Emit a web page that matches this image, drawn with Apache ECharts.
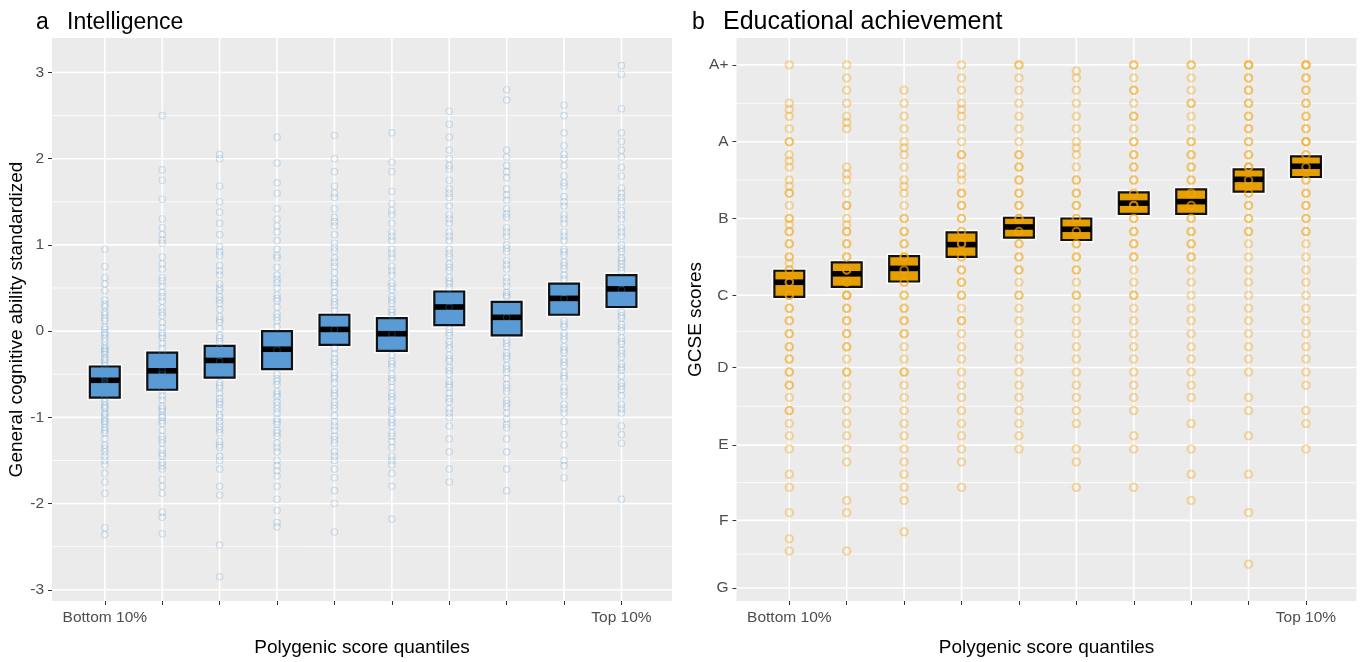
<!DOCTYPE html>
<html>
<head>
<meta charset="utf-8">
<script src="https://cdn.jsdelivr.net/npm/echarts@6/dist/echarts.min.js"></script>
<style>
  html, body { margin: 0; padding: 0; background: #fff; }
  #chart { width: 1360px; height: 662px; }
</style>
</head>
<body>
<div id="chart"></div>
<script>
// Polygenic score deciles (1 = bottom 10%, 10 = top 10%)
const quantiles = [1, 2, 3, 4, 5, 6, 7, 8, 9, 10];
const quantileLabels = { 1: 'Bottom 10%', 10: 'Top 10%' };

// Panel a: general cognitive ability (standardized)
const iqTicks = [-3, -2, -1, 0, 1, 2, 3];
const iqMinorTicks = [-2.5, -1.5, -0.5, 0.5, 1.5, 2.5];
const iqBoxTop    = [-0.41, -0.25, -0.17, 0.00, 0.19, 0.15, 0.46, 0.34, 0.55, 0.65];
const iqBoxBottom = [-0.77, -0.68, -0.54, -0.44, -0.16, -0.23, 0.07, -0.05, 0.19, 0.28];
const iqMedian    = [-0.57, -0.46, -0.34, -0.21, 0.02, -0.03, 0.28, 0.16, 0.38, 0.49];
const iqPoints = [
  [0.95, 0.75, 0.62, 0.47, 0.36, 0.28, 0.22, 0.19, 0.12, 0.05, 0.02, -0.04, -0.08, -0.12, -0.17, -0.22, -0.27, -0.31, -0.36, -0.4, -0.45, -0.5, -0.55, -0.6, -0.63, -0.68, -0.72, -0.78, -0.82, -0.86, -0.9, -0.95, -1.0, -1.05, -1.08, -1.12, -1.18, -1.25, -1.32, -1.4, -1.45, -1.5, -1.55, -1.65, -1.75, -1.88, -2.28, -2.36,
   0.55, 0.31, 0.15, -0.02, -0.2, -0.33, -0.52, -0.7, -0.88, -1.03, -1.15, -1.36, -0.97, -0.24],
  [2.5, 1.87, 1.75, 1.53, 1.3, 1.2, 1.06, 1.02, 0.86, 0.72, 0.62, 0.52, 0.45, 0.35, 0.27, 0.18, 0.1, 0.04, -0.02, -0.08, -0.14, -0.2, -0.27, -0.33, -0.39, -0.46, -0.5, -0.56, -0.62, -0.69, -0.75, -0.8, -0.87, -0.93, -1.0, -1.07, -1.15, -1.22, -1.3, -1.37, -1.45, -1.52, -1.6, -1.72, -1.8, -1.88, -2.1, -2.16, -2.35,
   1.12, 0.78, 0.4, 0.22, -0.05, -0.9, -1.04, -1.26, -1.42, -1.56, -0.98, 0.58],
  [2.05, 2.0, 1.68, 1.5, 1.38, 1.25, 1.12, 0.98, 0.88, 0.76, 0.65, 0.55, 0.47, 0.4, 0.32, 0.25, 0.17, 0.1, 0.03, -0.05, -0.12, -0.2, -0.28, -0.35, -0.42, -0.48, -0.6, -0.66, -0.72, -0.78, -0.85, -0.9, -0.97, -1.05, -1.1, -1.18, -1.28, -1.35, -1.45, -1.6, -1.8, -1.9, -2.48, -2.85,
   0.92, 0.7, 0.5, 0.36, 0.13, -0.08, -0.63, -0.82, -1.0, -1.14, -1.32, -1.5],
  [2.25, 1.95, 1.72, 1.6, 1.42, 1.3, 1.15, 1.05, 0.95, 0.85, 0.74, 0.65, 0.56, 0.5, 0.42, 0.35, 0.28, 0.2, 0.12, 0.05, -0.1, -0.22, -0.35, -0.5, -0.55, -0.62, -0.7, -0.76, -0.82, -0.9, -0.95, -1.02, -1.08, -1.15, -1.22, -1.3, -1.4, -1.5, -1.56, -1.68, -1.8, -1.95, -2.08, -2.22, -2.27,
   1.22, 0.88, 0.6, 0.38, 0.16, -0.58, -0.73, -0.86, -1.05, -1.18, -1.35, -1.62],
  [2.27, 2.0, 1.85, 1.68, 1.55, 1.42, 1.32, 1.22, 1.12, 1.02, 0.93, 0.85, 0.75, 0.68, 0.6, 0.52, 0.45, 0.38, 0.3, 0.24, 0.1, 0.02, -0.08, -0.2, -0.26, -0.32, -0.4, -0.48, -0.55, -0.6, -0.68, -0.75, -0.82, -0.9, -0.98, -1.05, -1.15, -1.22, -1.3, -1.4, -1.5, -1.6, -1.7, -1.85, -2.0, -2.33,
   1.6, 1.27, 0.97, 0.8, 0.56, 0.34, -0.36, -0.52, -0.72, -0.86, -1.1, -1.26, -1.45],
  [2.3, 1.96, 1.85, 1.62, 1.48, 1.35, 1.25, 1.15, 1.05, 0.95, 0.85, 0.75, 0.65, 0.56, 0.48, 0.4, 0.32, 0.25, 0.18, 0.05, -0.03, -0.12, -0.28, -0.35, -0.42, -0.5, -0.58, -0.65, -0.72, -0.8, -0.88, -0.95, -1.02, -1.1, -1.18, -1.28, -1.35, -1.45, -1.55, -1.65, -1.8, -2.18,
   1.4, 1.1, 0.9, 0.7, 0.52, 0.36, 0.22, -0.38, -0.55, -0.76, -0.92, -1.06, -1.22, -1.5],
  [2.55, 2.4, 2.25, 2.1, 2.0, 1.88, 1.75, 1.65, 1.55, 1.45, 1.35, 1.25, 1.15, 1.05, 0.95, 0.86, 0.78, 0.7, 0.62, 0.55, 0.5, 0.35, 0.28, 0.15, 0.02, -0.05, -0.12, -0.2, -0.28, -0.35, -0.42, -0.5, -0.58, -0.65, -0.72, -0.82, -0.9, -1.0, -1.1, -1.25, -1.4, -1.6, -1.75,
   1.92, 1.6, 1.3, 1.1, 0.9, 0.74, 0.58, -0.02, -0.16, -0.32, -0.46, -0.62, -0.78, -0.95],
  [2.8, 2.68, 2.1, 2.02, 1.92, 1.78, 1.65, 1.52, 1.42, 1.32, 1.2, 1.1, 1.0, 0.92, 0.82, 0.72, 0.62, 0.52, 0.45, 0.4, 0.25, 0.16, 0.05, -0.1, -0.18, -0.25, -0.32, -0.4, -0.48, -0.55, -0.62, -0.7, -0.8, -0.88, -0.95, -1.02, -1.12, -1.25, -1.4, -1.6, -1.85,
   1.85, 1.58, 1.36, 1.15, 0.96, 0.77, 0.57, 0.42, -0.14, -0.29, -0.44, -0.66, -0.84, -1.08],
  [2.62, 2.5, 2.3, 2.15, 2.05, 1.92, 1.8, 1.68, 1.56, 1.45, 1.35, 1.25, 1.15, 1.05, 0.95, 0.88, 0.8, 0.72, 0.65, 0.6, 0.45, 0.38, 0.28, 0.12, 0.05, -0.02, -0.1, -0.18, -0.25, -0.32, -0.4, -0.48, -0.55, -0.65, -0.75, -0.85, -0.95, -1.05, -1.2, -1.32, -1.5, -1.56, -1.7,
   2.0, 1.72, 1.5, 1.3, 1.1, 0.92, 0.76, 0.08, -0.06, -0.22, -0.36, -0.52, -0.7, -0.9],
  [3.08, 2.98, 2.58, 2.3, 2.2, 2.02, 1.9, 1.66, 1.6, 1.5, 1.4, 1.3, 1.2, 1.1, 1.0, 0.92, 0.85, 0.78, 0.7, 0.55, 0.48, 0.38, 0.22, 0.15, 0.08, 0.0, -0.08, -0.15, -0.22, -0.3, -0.38, -0.45, -0.52, -0.6, -0.68, -0.75, -0.85, -0.95, -1.1, -1.2, -1.3, -1.95,
   2.1, 1.8, 1.55, 1.35, 1.15, 0.96, 0.82, 0.74, 0.18, 0.04, -0.12, -0.26, -0.42, -0.64, -0.9]
];

// Panel b: GCSE grades
const gradeLabels = ['G', 'F', 'E', 'D', 'C', 'B', 'A', 'A+'];
const gradeValues = [1.19, 2.07, 3.05, 4.06, 5, 6, 7, 8];
const gcseBoxTop    = [5.32, 5.43, 5.51, 5.82, 6.01, 6.00, 6.34, 6.38, 6.64, 6.81];
const gcseBoxBottom = [4.98, 5.11, 5.18, 5.50, 5.75, 5.72, 6.06, 6.06, 6.35, 6.54];
const gcseMedian    = [5.17, 5.28, 5.35, 5.66, 5.89, 5.86, 6.20, 6.22, 6.51, 6.68];
const gcsePoints = [
  [8.00, 7.50, 7.42, 7.33, 7.17, 7.00, 7.00, 6.83, 6.75, 6.67, 6.50, 6.42, 6.33, 6.33, 6.17, 6.00, 6.00, 5.92, 5.83, 5.83, 5.67, 5.67, 5.50, 5.50, 5.42, 5.33, 5.33, 5.17, 5.17, 5.17, 5.00, 5.00, 5.00, 4.83, 4.83, 4.67, 4.67, 4.50, 4.50, 4.33, 4.33, 4.17, 4.17, 4.00, 4.00, 3.83, 3.83, 3.67, 3.50, 3.50, 3.33, 3.17, 3.00, 2.67, 2.50, 2.17, 1.83, 1.67],
  [8.00, 7.83, 7.67, 7.50, 7.33, 7.25, 7.17, 6.67, 6.58, 6.50, 6.33, 6.17, 6.17, 6.00, 5.92, 5.83, 5.83, 5.67, 5.67, 5.50, 5.50, 5.33, 5.33, 5.33, 5.17, 5.17, 5.00, 5.00, 5.00, 4.83, 4.83, 4.67, 4.67, 4.50, 4.50, 4.33, 4.33, 4.17, 4.00, 4.00, 3.83, 3.67, 3.50, 3.33, 3.17, 3.00, 2.83, 2.33, 2.17, 1.67],
  [7.67, 7.50, 7.33, 7.17, 7.00, 6.92, 6.83, 6.67, 6.50, 6.42, 6.33, 6.17, 6.00, 6.00, 5.83, 5.83, 5.67, 5.67, 5.50, 5.50, 5.50, 5.33, 5.33, 5.17, 5.17, 5.00, 5.00, 4.83, 4.83, 4.67, 4.67, 4.50, 4.50, 4.33, 4.17, 4.00, 4.00, 3.83, 3.67, 3.50, 3.33, 3.17, 3.00, 2.83, 2.67, 2.50, 2.33, 1.92],
  [8.00, 7.83, 7.67, 7.50, 7.42, 7.33, 7.17, 7.00, 6.83, 6.83, 6.67, 6.58, 6.50, 6.33, 6.33, 6.17, 6.17, 6.00, 6.00, 5.83, 5.83, 5.67, 5.67, 5.67, 5.50, 5.50, 5.33, 5.33, 5.17, 5.17, 5.00, 5.00, 4.83, 4.67, 4.67, 4.50, 4.33, 4.17, 4.00, 3.83, 3.67, 3.50, 3.33, 3.17, 3.00, 2.83, 2.50],
  [8.00, 8.00, 7.83, 7.67, 7.50, 7.33, 7.17, 7.00, 6.83, 6.83, 6.67, 6.67, 6.50, 6.50, 6.33, 6.33, 6.17, 6.17, 6.00, 6.00, 6.00, 5.83, 5.83, 5.67, 5.67, 5.50, 5.50, 5.33, 5.33, 5.17, 5.00, 5.00, 4.83, 4.67, 4.50, 4.33, 4.17, 4.00, 3.83, 3.67, 3.50, 3.33, 3.17, 3.00],
  [7.92, 7.83, 7.67, 7.50, 7.33, 7.17, 7.00, 6.92, 6.83, 6.67, 6.50, 6.50, 6.33, 6.33, 6.17, 6.17, 6.00, 6.00, 5.83, 5.83, 5.67, 5.67, 5.50, 5.50, 5.33, 5.33, 5.17, 5.00, 5.00, 4.83, 4.67, 4.50, 4.33, 4.17, 4.00, 3.83, 3.67, 3.50, 3.33, 3.00, 2.83, 2.50],
  [8.00, 8.00, 7.83, 7.67, 7.67, 7.50, 7.33, 7.33, 7.17, 7.00, 7.00, 6.83, 6.83, 6.67, 6.67, 6.50, 6.50, 6.33, 6.33, 6.17, 6.17, 6.17, 6.00, 6.00, 5.83, 5.83, 5.67, 5.67, 5.50, 5.50, 5.33, 5.17, 5.00, 5.00, 4.83, 4.67, 4.50, 4.33, 4.17, 4.00, 3.83, 3.67, 3.50, 3.17, 3.00, 2.50],
  [8.00, 8.00, 7.83, 7.67, 7.50, 7.50, 7.33, 7.17, 7.00, 7.00, 6.83, 6.83, 6.67, 6.67, 6.50, 6.50, 6.33, 6.33, 6.17, 6.17, 6.00, 6.00, 5.83, 5.83, 5.67, 5.67, 5.50, 5.50, 5.33, 5.17, 5.00, 4.83, 4.67, 4.50, 4.33, 4.17, 4.00, 3.83, 3.67, 3.33, 3.00, 2.67, 2.33],
  [8.00, 8.00, 8.00, 7.83, 7.83, 7.67, 7.67, 7.50, 7.50, 7.33, 7.33, 7.17, 7.17, 7.00, 7.00, 6.83, 6.83, 6.67, 6.67, 6.67, 6.50, 6.50, 6.33, 6.33, 6.17, 6.17, 6.00, 6.00, 5.83, 5.83, 5.67, 5.50, 5.33, 5.17, 5.00, 4.83, 4.67, 4.50, 4.33, 4.17, 4.00, 3.67, 3.50, 3.17, 2.67, 2.17, 1.50],
  [8.00, 8.00, 8.00, 7.83, 7.83, 7.67, 7.67, 7.50, 7.50, 7.33, 7.33, 7.17, 7.17, 7.00, 7.00, 7.00, 6.83, 6.83, 6.67, 6.67, 6.50, 6.50, 6.33, 6.33, 6.17, 6.17, 6.00, 6.00, 5.83, 5.83, 5.67, 5.50, 5.33, 5.17, 5.00, 4.83, 4.67, 4.50, 4.33, 4.17, 4.00, 3.83, 3.50, 3.33, 3.00]
];

// ---- helpers ----
const FONT = "'Liberation Sans', Arial, sans-serif";
const X_MIN = 0.08, X_MAX = 10.88;
const midpoints = vals => vals.slice(0, -1).map((v, i) => (v + vals[i + 1]) / 2);

// white panel grid: horizontal major/minor lines and a vertical line per decile
function gridLineSeries(idx, yMajor, yMinor) {
  const data = [];
  yMinor.forEach(v => data.push([0, v, 0.8]));
  yMajor.forEach(v => data.push([0, v, 1.6]));
  quantiles.forEach(q => data.push([1, q, 1.6]));
  return {
    type: 'custom', xAxisIndex: idx, yAxisIndex: idx, z: 1, silent: true,
    clip: true, data,
    renderItem(params, api) {
      const kind = api.value(0), v = api.value(1), w = api.value(2);
      const cs = params.coordSys;
      let p1, p2;
      if (kind === 0) {
        const y = api.coord([X_MIN, v])[1];
        p1 = [cs.x, y]; p2 = [cs.x + cs.width, y];
      } else {
        const x = api.coord([v, 0])[0];
        p1 = [x, cs.y]; p2 = [x, cs.y + cs.height];
      }
      return { type: 'line', shape: { x1: p1[0], y1: p1[1], x2: p2[0], y2: p2[1] },
               style: { stroke: '#ffffff', lineWidth: w } };
    }
  };
}

// filled crossbar: box from bottom to top value, thick black bar at the median
function boxSeries(idx, tops, bottoms, medians, fill) {
  return {
    type: 'custom', xAxisIndex: idx, yAxisIndex: idx, z: 3, silent: true,
    data: quantiles.map((q, i) => [q, bottoms[i], tops[i], medians[i]]),
    renderItem(params, api) {
      const x = api.value(0);
      const tl = api.coord([x - 0.26, api.value(2)]);
      const br = api.coord([x + 0.26, api.value(1)]);
      const md = api.coord([x, api.value(3)]);
      const w = br[0] - tl[0], h = br[1] - tl[1];
      return { type: 'group', children: [
        { type: 'rect', shape: { x: tl[0] - 1.9, y: tl[1] - 1.9, width: w + 3.8, height: h + 3.8 },
          style: { fill: 'none', stroke: '#ffffff', lineWidth: 1.4 } },
        { type: 'rect', shape: { x: tl[0], y: tl[1], width: w, height: h },
          style: { fill, stroke: '#111111', lineWidth: 2.2 } },
        { type: 'rect', shape: { x: tl[0], y: md[1] - 2.8, width: w, height: 5.6 },
          style: { fill: '#000000' } }
      ]};
    }
  };
}

function pointSeries(idx, cols, color, size, bw) {
  const data = [];
  cols.forEach((col, i) => col.forEach(v => data.push([quantiles[i], v])));
  return {
    type: 'scatter', xAxisIndex: idx, yAxisIndex: idx, z: 4, silent: true,
    symbol: 'circle', symbolSize: size, data,
    itemStyle: { color: 'rgba(0,0,0,0)', borderColor: color, borderWidth: bw }
  };
}

function xAxis(idx) {
  return {
    type: 'value', gridIndex: idx, min: X_MIN, max: X_MAX,
    name: 'Polygenic score quantiles', nameLocation: 'middle', nameGap: 37,
    nameTextStyle: { fontFamily: FONT, fontSize: 19, color: '#000' },
    axisLine: { show: false, onZero: false },
    axisTick: { show: true, customValues: quantiles, length: 4, lineStyle: { color: '#333', width: 1 } },
    axisLabel: { customValues: [1, 10], formatter: v => quantileLabels[v] || '',
                 fontFamily: FONT, fontSize: 15.5, color: '#4D4D4D', margin: 9 },
    splitLine: { show: false }
  };
}

function yAxis(idx, min, max, name, gap, ticks, fmt) {
  return {
    type: 'value', gridIndex: idx, min, max,
    name, nameLocation: 'middle', nameGap: gap,
    nameTextStyle: { fontFamily: FONT, fontSize: 19, color: '#000' },
    axisLine: { show: false, onZero: false },
    axisTick: { show: true, customValues: ticks, length: 4, lineStyle: { color: '#333' } },
    axisLabel: { customValues: ticks, formatter: fmt, fontFamily: FONT, fontSize: 15.5,
                 color: '#4D4D4D', margin: 8 },
    splitLine: { show: false }
  };
}

const titleStyle = size => ({ fontFamily: FONT, fontSize: size, fontWeight: 'normal', color: '#000' });

const chart = echarts.init(document.getElementById('chart'), null, { renderer: 'canvas' });

chart.setOption({
  animation: false,
  backgroundColor: '#ffffff',
  title: [
    { text: 'a', left: 31, top: 6, textStyle: titleStyle(23) },
    { text: 'Intelligence', left: 62, top: 6, textStyle: titleStyle(23) },
    { text: 'b', left: 687, top: 6, textStyle: titleStyle(23) },
    { text: 'Educational achievement', left: 718, top: 5, textStyle: titleStyle(25) }
  ],
  grid: [
    { left: 52, top: 38, width: 620, height: 566, show: true, backgroundColor: '#EBEBEB', borderWidth: 0 },
    { left: 736.5, top: 38, width: 620, height: 567, show: true, backgroundColor: '#EBEBEB', borderWidth: 0 }
  ],
  xAxis: [xAxis(0), xAxis(1)],
  yAxis: [
    yAxis(0, -3.13, 3.4, 'General cognitive ability standardized', 25, iqTicks, v => String(v)),
    yAxis(1, 1.02, 8.35, 'GCSE scores', 22, gradeValues,
          v => gradeLabels[gradeValues.findIndex(g => Math.abs(g - v) < 1e-6)] || '')
  ],
  series: [
    gridLineSeries(0, iqTicks, iqMinorTicks),
    gridLineSeries(1, gradeValues, midpoints(gradeValues)),
    boxSeries(0, iqBoxTop, iqBoxBottom, iqMedian, '#5B9BD5'),
    boxSeries(1, gcseBoxTop, gcseBoxBottom, gcseMedian, '#E69F00'),
    pointSeries(0, iqPoints, 'rgba(91,155,213,0.34)', 6.5, 1.1),
    pointSeries(1, gcsePoints, 'rgba(247,166,20,0.5)', 7.5, 2)
  ]
});
</script>
</body>
</html>
